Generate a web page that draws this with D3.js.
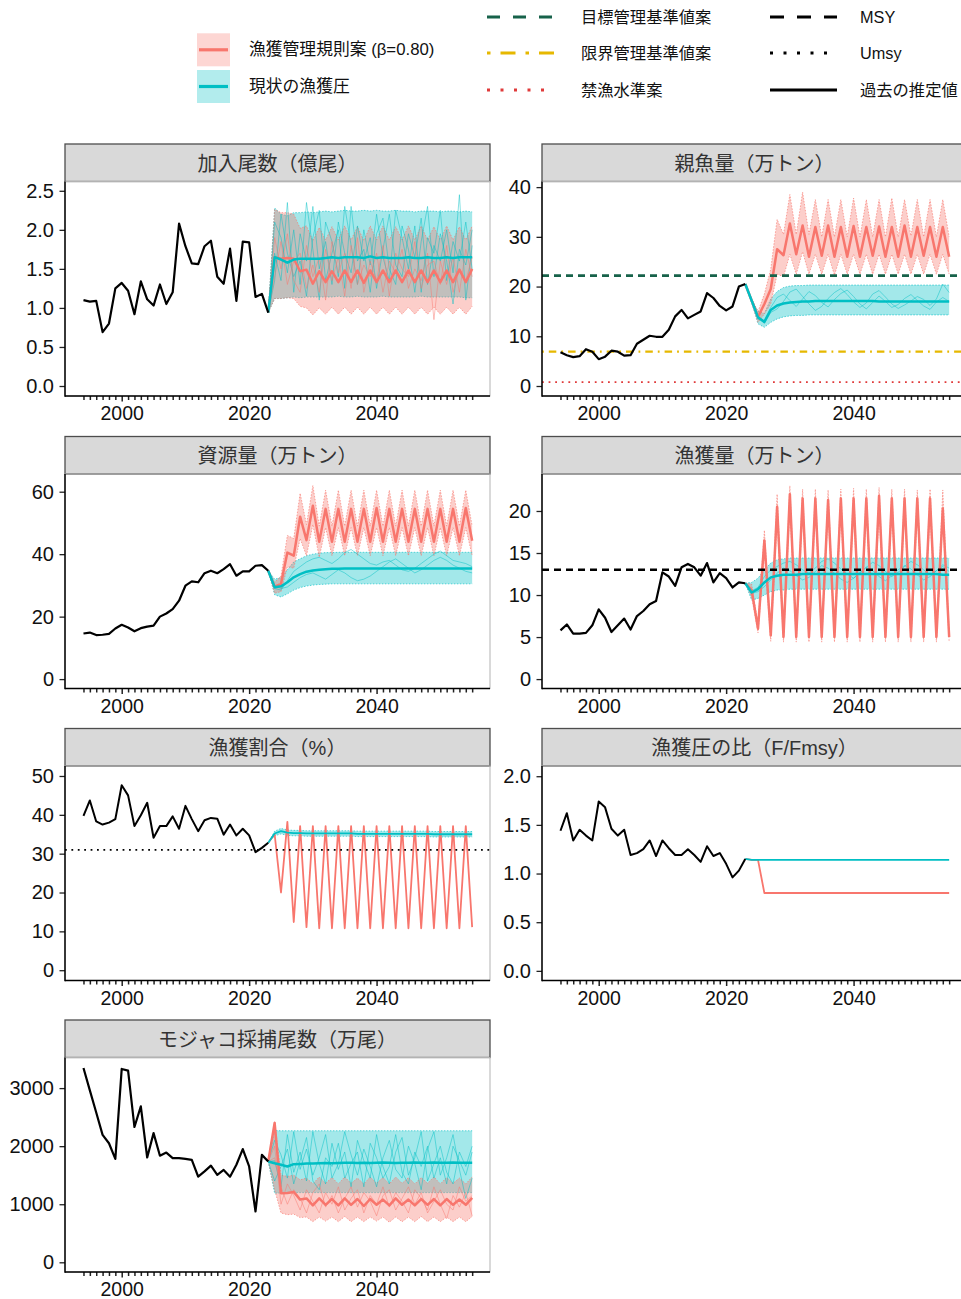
<!DOCTYPE html>
<html>
<head>
<meta charset="utf-8">
<script src="https://cdn.jsdelivr.net/npm/d3@7"></script>
<style>
  body { margin:0; background:#fff; }
  svg  { display:block; }
</style>
</head>
<body>
<div id="chart"></div>
<script>
// Years: historical estimates and projection.
var year_hist_first  = 1994;
var year_hist_last   = 2023;
var year_proj_last   = 2055;
var years_hist       = d3.range(year_hist_first, year_hist_last + 1);
var years_proj       = d3.range(year_hist_last + 1, year_proj_last + 1);
var years_all        = years_hist.concat(years_proj);
var years_tick_major = [2000, 2020, 2040];

var color_rule = "#F8766D";   // 漁獲管理規則案 (β=0.80)
var color_curr = "#00BFC4";   // 現状の漁獲圧

// 加入尾数（億尾）
var rec_hist      = [1.10,1.08,1.09,0.69,0.80,1.25,1.32,1.22,0.92,1.34,1.11,1.03,1.30,1.05,1.20,2.08,1.79,1.57,1.56,1.79,1.86,1.40,1.31,1.76,1.09,1.85,1.84,1.14,1.18,0.94];
var rec_curr_med  = [1.65,1.62,1.58,1.62,1.63,1.63,1.63,1.63,1.64,1.65,1.64,1.65,1.65,1.65,1.64,1.66,1.64,1.65,1.64,1.64,1.64,1.65,1.64,1.64,1.65,1.64,1.64,1.65,1.64,1.65,1.65,1.65];
var rec_curr_up   = [2.28,2.20,2.18,2.22,2.22,2.23,2.22,2.23,2.24,2.23,2.24,2.25,2.24,2.24,2.25,2.24,2.25,2.24,2.24,2.25,2.24,2.24,2.23,2.24,2.24,2.24,2.23,2.24,2.24,2.23,2.24,2.23];
var rec_curr_lo   = [1.12,1.12,1.13,1.14,1.13,1.14,1.14,1.14,1.14,1.14,1.15,1.14,1.14,1.15,1.14,1.14,1.14,1.15,1.14,1.14,1.14,1.14,1.14,1.15,1.14,1.14,1.14,1.14,1.14,1.14,1.13,1.13];
var rec_rule_med  = [1.65,1.63,1.64,1.63,1.47,1.49,1.31,1.47,1.33,1.47,1.33,1.48,1.33,1.48,1.32,1.48,1.33,1.48,1.33,1.48,1.33,1.48,1.33,1.48,1.33,1.48,1.33,1.48,1.33,1.49,1.33,1.50];
var rec_rule_up   = [2.26,2.22,2.22,2.20,2.02,2.05,1.86,2.03,1.87,2.04,1.87,2.05,1.87,2.04,1.86,2.05,1.87,2.05,1.87,2.04,1.87,2.05,1.87,2.05,1.87,2.04,1.87,2.05,1.87,2.04,1.87,2.05];
var rec_rule_lo   = [1.12,1.12,1.13,1.12,1.02,1.00,0.91,1.00,0.92,1.01,0.92,1.01,0.92,1.01,0.92,1.01,0.92,1.01,0.92,1.01,0.92,1.01,0.92,1.01,0.92,1.01,0.92,1.01,0.92,1.01,0.92,1.02];
var rec_curr_sim1 = [1.70,1.35,2.35,1.20,1.95,1.60,2.30,1.50,1.85,1.30,2.10,1.70,1.45,2.05,1.60,1.90,1.25,1.75,2.20,1.55,1.40,1.95,1.65,2.15,1.30,1.80,1.60,2.00,1.45,2.45,1.10,1.80];
var rec_curr_sim2 = [2.10,1.90,1.45,2.00,1.30,2.35,1.75,1.10,2.10,1.85,1.40,2.30,1.80,1.30,2.00,1.55,2.20,1.65,1.35,2.25,1.90,1.50,2.05,1.20,1.90,1.70,2.25,1.35,1.85,1.60,2.10,1.50];
var rec_curr_sim3 = [1.35,2.20,1.70,1.40,1.60,1.15,1.90,2.25,1.35,1.70,2.00,1.25,2.30,1.60,1.75,1.20,1.95,2.15,1.50,1.30,2.05,1.75,1.20,1.85,2.30,1.40,1.95,1.60,1.05,1.75,1.55,2.00];
var rec_rule_sim1 = [1.40,1.85,1.30,1.60,1.70,1.25,1.55,1.20,1.75,1.35,1.65,1.15,1.80,1.30,1.55,1.40,1.70,1.20,1.60,1.45,1.75,1.25,1.50,1.35,1.70,0.85,1.60,1.30,1.65,1.20,1.75,1.40];
var rec_rule_sim2 = [1.90,1.50,1.95,1.35,1.20,1.80,1.40,1.65,1.10,1.85,1.45,1.70,1.25,1.90,1.20,1.60,1.35,1.80,1.15,1.70,1.50,1.40,1.85,1.25,1.55,1.60,1.30,1.80,1.20,1.50,1.35,1.65];

// 親魚量（万トン）
var ssb_hist      = [6.8,6.2,5.8,6.0,7.4,6.9,5.4,5.9,7.1,6.9,6.1,6.2,8.5,9.3,10.1,9.9,9.9,11.3,14.0,15.3,13.6,14.3,15.0,18.7,17.7,16.1,15.2,16.0,20.0,20.5];
var ssb_curr_med  = [17.2,13.8,12.9,15.3,16.2,16.6,16.8,16.9,17.0,17.0,17.1,17.1,17.1,17.1,17.1,17.1,17.1,17.1,17.1,17.1,17.0,17.0,17.0,17.0,17.0,17.0,17.0,17.0,17.0,17.0,17.0,17.0];
var ssb_curr_up   = [17.5,15.0,14.6,17.5,19.0,19.8,20.1,20.2,20.2,20.3,20.3,20.3,20.3,20.3,20.3,20.3,20.3,20.3,20.3,20.3,20.3,20.3,20.3,20.3,20.3,20.3,20.3,20.3,20.3,20.3,20.3,20.3];
var ssb_curr_lo   = [16.8,12.5,11.8,12.8,13.5,13.9,14.1,14.2,14.2,14.3,14.3,14.3,14.3,14.3,14.3,14.3,14.3,14.3,14.3,14.3,14.3,14.3,14.3,14.3,14.3,14.3,14.3,14.3,14.3,14.3,14.3,14.3];
var ssb_rule_med  = [17.2,13.9,16.5,19.5,27.5,26.3,32.7,26.5,32.3,26.0,32.0,26.2,32.3,26.0,32.0,26.0,32.2,26.0,32.0,26.2,32.1,26.0,32.0,26.0,32.3,26.0,32.0,26.2,32.0,26.0,32.0,26.0];
var ssb_rule_up   = [17.5,15.0,18.5,23.5,33.5,30.5,38.5,30.5,39.0,30.5,37.5,30.0,37.5,30.0,37.5,30.0,37.8,30.0,37.5,30.0,37.5,30.0,37.8,30.0,37.5,30.2,37.5,30.0,37.5,30.0,37.5,30.0];
var ssb_rule_lo   = [16.8,12.8,14.5,16.5,22.5,22.0,26.5,22.5,27.0,22.5,26.5,22.5,26.5,22.3,26.5,22.5,26.5,22.5,26.5,22.5,26.5,22.5,26.5,22.5,26.5,22.5,26.5,22.5,26.5,22.5,26.5,22.5];
var ssb_curr_sim1 = [17.3,13.5,13.2,15.8,17.8,18.5,17.2,16.0,17.5,19.0,18.2,16.8,15.9,17.4,18.6,19.3,18.0,16.5,15.5,16.8,18.1,17.0,15.8,16.4,17.6,18.4,17.2,16.1,15.4,16.9,17.8,17.0];
var ssb_curr_sim2 = [17.0,14.0,12.6,14.8,15.5,17.0,18.9,19.5,18.0,16.5,15.2,16.0,17.6,18.8,19.6,18.4,16.9,15.8,16.7,18.5,19.2,17.9,16.5,15.6,16.3,17.1,18.0,17.4,16.2,17.5,20.5,18.8];
var ssb_target    = 22.2;   // 目標管理基準値案
var ssb_limit     = 6.9;    // 限界管理基準値案
var ssb_ban       = 0.8;    // 禁漁水準案

// 資源量（万トン）
var bio_hist      = [14.6,14.9,14.1,14.2,14.5,16.2,17.4,16.5,15.3,16.3,16.8,17.1,20.0,21.0,22.4,25.1,29.9,31.3,31.0,33.9,34.7,33.9,35.2,36.8,33.1,34.5,34.5,36.3,36.5,34.7];
var bio_curr_med  = [29.4,29.7,31.0,32.6,33.6,34.4,34.8,35.0,35.2,35.3,35.3,35.4,35.4,35.4,35.4,35.4,35.4,35.4,35.4,35.4,35.4,35.4,35.4,35.4,35.4,35.4,35.4,35.4,35.4,35.4,35.4,35.4];
var bio_curr_up   = [32.0,32.5,35.0,37.5,38.5,39.5,40.0,40.3,40.5,40.5,40.6,40.6,40.6,40.6,40.6,40.6,40.6,40.6,40.6,40.6,40.6,40.6,40.6,40.6,40.6,40.6,40.6,40.6,40.6,40.6,40.6,40.6];
var bio_curr_lo   = [27.0,26.3,27.3,28.5,29.3,29.8,30.1,30.3,30.4,30.5,30.5,30.5,30.5,30.5,30.5,30.5,30.5,30.5,30.5,30.5,30.5,30.5,30.5,30.5,30.5,30.5,30.5,30.5,30.5,30.5,30.5,30.5];
var bio_rule_med  = [29.6,30.5,40.5,39.5,52.0,44.5,55.5,44.0,54.5,44.0,54.5,44.0,54.5,44.0,54.5,44.0,54.8,44.0,54.5,44.0,54.5,44.0,54.5,44.0,54.5,44.0,54.5,44.0,54.5,44.0,54.8,44.3];
var bio_rule_up   = [31.0,33.0,46.0,45.0,59.5,49.5,62.0,49.0,60.5,49.0,60.5,49.0,60.5,49.0,60.5,49.0,60.5,49.0,60.5,49.0,60.5,49.0,60.5,49.0,60.5,49.0,60.5,49.0,60.5,49.0,60.5,49.0];
var bio_rule_lo   = [27.5,28.0,36.0,35.5,45.0,39.5,49.5,39.0,48.5,39.5,48.5,39.5,48.5,39.5,48.5,39.5,48.5,39.5,48.5,39.5,48.5,39.5,48.5,39.5,48.5,39.5,48.5,39.5,48.5,39.5,48.5,39.5];
var bio_curr_sim1 = [29.0,28.5,31.5,34.5,36.0,37.5,38.5,39.0,38.0,37.0,38.5,40.5,41.5,40.0,38.5,37.0,36.5,37.5,38.0,36.5,35.0,34.5,35.5,37.0,38.5,40.0,41.0,39.5,38.0,37.5,37.0,36.0];
var bio_curr_sim2 = [30.0,29.0,29.5,31.0,32.5,33.5,34.0,33.0,32.0,33.5,35.0,34.0,32.5,31.5,32.0,33.0,34.5,36.0,37.5,38.5,37.0,35.5,34.0,35.0,36.5,38.0,39.0,38.0,36.5,35.5,34.5,34.0];

// 漁獲量（万トン）
var cat_hist      = [5.8,6.5,5.4,5.4,5.5,6.4,8.3,7.3,5.6,6.4,7.2,5.9,7.5,8.1,8.9,9.3,12.7,12.2,11.1,13.3,13.7,13.3,12.3,13.8,11.5,12.6,12.0,10.9,11.5,11.4];
var cat_curr_med  = [10.3,10.7,11.5,12.1,12.3,12.4,12.4,12.4,12.5,12.5,12.5,12.5,12.5,12.5,12.5,12.5,12.5,12.5,12.5,12.5,12.5,12.5,12.5,12.5,12.5,12.5,12.5,12.5,12.5,12.5,12.4,12.4];
var cat_curr_up   = [11.5,12.0,13.0,13.8,14.2,14.3,14.4,14.4,14.4,14.4,14.4,14.4,14.4,14.4,14.4,14.4,14.4,14.4,14.4,14.4,14.4,14.4,14.4,14.4,14.4,14.4,14.4,14.4,14.4,14.4,14.4,14.4];
var cat_curr_lo   = [9.4,9.6,10.0,10.4,10.6,10.6,10.7,10.7,10.7,10.7,10.7,10.7,10.7,10.7,10.7,10.7,10.7,10.7,10.7,10.7,10.7,10.7,10.7,10.7,10.7,10.7,10.7,10.7,10.7,10.7,10.7,10.7];
var cat_rule_med  = [10.6,6.0,16.5,5.2,20.5,5.0,22.0,5.0,21.5,5.0,21.5,5.0,21.3,5.0,21.5,5.0,21.5,5.0,21.5,5.0,21.8,5.0,21.5,5.0,21.5,5.0,21.5,5.0,21.5,5.0,20.3,5.0];
var cat_rule_up   = [11.3,6.6,17.7,5.6,22.0,5.5,23.0,5.5,22.6,5.5,22.6,5.5,22.5,5.5,22.6,5.5,22.7,5.5,22.6,5.5,22.8,5.5,22.6,5.5,22.6,5.5,22.5,5.5,22.6,5.5,22.5,5.5];
var cat_rule_lo   = [9.8,5.5,15.0,4.5,19.0,4.4,20.5,4.4,20.0,4.4,20.0,4.4,20.0,4.4,20.0,4.4,20.0,4.4,20.0,4.4,20.0,4.4,20.0,4.4,20.0,4.4,20.0,4.4,20.0,4.4,19.0,4.4];
var cat_curr_sim1 = [10.5,10.9,12.2,13.0,13.4,13.8,14.0,13.6,13.0,12.6,13.2,14.0,14.3,13.8,13.1,12.5,12.0,12.6,13.3,13.9,13.5,12.8,12.2,12.7,13.4,14.0,13.6,13.0,12.4,12.9,13.6,13.2];
var cat_curr_sim2 = [10.2,10.4,11.0,11.8,12.6,13.2,12.9,12.3,11.8,12.1,12.8,13.5,13.2,12.6,11.9,11.5,12.0,12.7,13.3,12.9,12.2,11.7,12.3,13.0,13.5,13.1,12.4,11.8,12.2,12.9,13.4,12.8];
var cat_msy       = 13.0;

// 漁獲割合（%）
var rate_hist     = [39.7,43.7,38.3,37.5,38.0,38.9,47.6,45.0,37.1,39.9,43.1,34.1,37.1,37.1,39.6,36.4,42.3,38.9,35.8,38.6,39.2,39.0,34.9,37.5,34.7,36.4,34.7,30.4,31.5,32.8];
var rate_curr_med = [35.2,35.8,35.4,35.3,35.3,35.2,35.2,35.2,35.2,35.2,35.2,35.2,35.2,35.1,35.1,35.1,35.1,35.1,35.1,35.1,35.1,35.1,35.1,35.1,35.1,35.0,35.0,35.0,35.0,35.0,35.0,35.0];
var rate_curr_up  = [35.8,36.5,36.1,36.0,36.0,35.9,35.9,35.9,35.9,35.9,35.9,35.9,35.9,35.8,35.8,35.8,35.8,35.8,35.8,35.8,35.8,35.8,35.8,35.8,35.8,35.7,35.7,35.7,35.7,35.7,35.7,35.7];
var rate_curr_lo  = [34.6,35.1,34.7,34.6,34.6,34.5,34.5,34.5,34.5,34.5,34.5,34.5,34.5,34.4,34.4,34.4,34.4,34.4,34.4,34.4,34.4,34.4,34.4,34.4,34.4,34.3,34.3,34.3,34.3,34.3,34.3,34.3];
var rate_rule_med = [35.0,20.0,38.2,12.4,37.1,11.1,37.1,10.8,37.1,10.8,37.1,10.8,37.1,10.8,37.1,10.8,37.1,10.8,37.1,10.8,37.1,10.8,37.1,10.8,37.1,10.8,37.1,10.8,37.1,10.8,37.1,11.1];
var rate_umsy     = 31.0;

// 漁獲圧の比（F/Fmsy）
var fr_hist       = [1.44,1.62,1.34,1.45,1.39,1.34,1.74,1.68,1.46,1.39,1.45,1.19,1.21,1.25,1.34,1.18,1.34,1.26,1.19,1.19,1.25,1.19,1.12,1.28,1.18,1.21,1.10,0.96,1.03,1.15];
var fr_curr_med   = [1.14,1.14,1.14,1.14,1.14,1.14,1.14,1.14,1.14,1.14,1.14,1.14,1.14,1.14,1.14,1.14,1.14,1.14,1.14,1.14,1.14,1.14,1.14,1.14,1.14,1.14,1.14,1.14,1.14,1.14,1.14,1.14];
var fr_rule_med   = [1.14,1.14,0.80,0.80,0.80,0.80,0.80,0.80,0.80,0.80,0.80,0.80,0.80,0.80,0.80,0.80,0.80,0.80,0.80,0.80,0.80,0.80,0.80,0.80,0.80,0.80,0.80,0.80,0.80,0.80,0.80,0.80];

// モジャコ採捕尾数（万尾）
var moj_hist      = [3345,2960,2580,2195,2050,1780,3330,3300,2330,2685,1805,2225,1835,1890,1795,1795,1780,1765,1475,1565,1665,1505,1590,1475,1680,1950,1650,875,1850,1735];
var moj_curr_med  = [1705,1680,1650,1690,1695,1700,1700,1705,1710,1705,1710,1715,1715,1710,1715,1710,1715,1720,1715,1710,1715,1715,1720,1715,1715,1720,1715,1715,1720,1715,1715,1715];
var moj_curr_up   = [2270,2265,2265,2265,2265,2265,2265,2265,2265,2265,2265,2265,2265,2265,2265,2265,2265,2265,2265,2265,2265,2265,2265,2265,2265,2265,2265,2265,2265,2265,2265,2265];
var moj_curr_lo   = [1190,1195,1200,1200,1200,1200,1200,1200,1200,1200,1200,1200,1200,1200,1200,1200,1200,1200,1200,1200,1200,1200,1200,1200,1200,1200,1200,1200,1200,1200,1200,1200];
var moj_rule_med  = [2400,1190,1195,1210,1080,1100,980,1100,990,1090,980,1100,990,1090,970,1090,990,1080,980,1100,990,1080,980,1090,990,1090,980,1090,990,1080,990,1110];
var moj_rule_up   = [2430,1500,1480,1500,1420,1450,1350,1470,1360,1460,1350,1470,1360,1450,1350,1470,1360,1460,1350,1470,1360,1460,1350,1460,1360,1470,1350,1460,1360,1450,1350,1470];
var moj_rule_lo   = [1250,850,820,830,770,780,700,780,710,780,700,790,700,780,700,780,710,780,690,780,700,780,700,790,700,780,700,780,700,780,700,790];
var moj_curr_sim1 = [1750,1300,2200,1550,1900,1400,2250,1700,1350,2050,1600,1900,1300,2100,1750,1450,2200,1650,1350,1900,2150,1500,1800,2250,1400,1700,2000,1550,1350,1900,1650,2000];
var moj_curr_sim2 = [2100,1850,1450,2250,1600,1950,1500,1800,2200,1450,1700,2250,1850,1500,1950,1650,1300,1800,2100,1600,1450,2000,1700,1250,1950,2250,1500,1800,2200,1600,1100,1450];
var moj_curr_sim3 = [1400,1650,1950,1350,1750,2150,1400,1250,1800,1650,2050,1450,1700,1900,1300,2050,1800,1450,1650,2200,1550,1350,1900,1650,2000,1450,1800,1350,2000,1750,1500,1900];
var moj_rule_sim1 = [2000,1000,1350,1150,900,1250,1050,850,1200,1000,1300,900,1100,1250,850,1150,1000,1300,950,1200,1050,850,1250,1100,900,1300,1000,750,1150,950,1200,800];
var moj_rule_sim2 = [1800,1300,1000,1250,1100,850,1200,1350,950,1150,850,1100,1300,950,1200,1050,800,1150,1250,900,1100,1300,1000,1200,850,1050,1250,1000,900,1300,1050,1150];

// Layout.
var col_left           = [65, 542];
var panel_width        = 425;
var strip_top          = [144, 436.5, 728.5, 1020];
var strip_height       = 37.5;
var panel_height_total = 252;
var x_domain           = [1991.1, 2057.8];
var band_alpha         = 0.36;
var font_num           = "'Liberation Sans', Arial, sans-serif";
var font_jp            = "'Liberation Sans', 'Noto Sans CJK JP', sans-serif";

var fmt_1 = d3.format(".1f");
var fmt_0 = d3.format("d");

var panels = [
  { col:0, row:0, title:"加入尾数（億尾）", domain:[-0.128, 2.619], ticks:[0,0.5,1,1.5,2,2.5], format:fmt_1,
    hist:rec_hist,
    curr:{ med:rec_curr_med, up:rec_curr_up, lo:rec_curr_lo, sims:[rec_curr_sim1, rec_curr_sim2, rec_curr_sim3] },
    rule:{ med:rec_rule_med, up:rec_rule_up, lo:rec_rule_lo, sims:[rec_rule_sim1, rec_rule_sim2] },
    refs:[] },
  { col:1, row:0, title:"親魚量（万トン）", domain:[-2.01, 41.13], ticks:[0,10,20,30,40], format:fmt_0,
    hist:ssb_hist,
    curr:{ med:ssb_curr_med, up:ssb_curr_up, lo:ssb_curr_lo, sims:[ssb_curr_sim1, ssb_curr_sim2] },
    rule:{ med:ssb_rule_med, up:ssb_rule_up, lo:ssb_rule_lo, sims:[] },
    refs:[ { value:ssb_target, color:"#17624a", dash:"7,5",         width:2.6 },
           { value:ssb_limit,  color:"#E6B800", dash:"1.8,5,7.5,5", width:2.2 },
           { value:ssb_ban,    color:"#E03A3A", dash:"1.8,4.8",     width:1.8 } ] },
  { col:0, row:1, title:"資源量（万トン）", domain:[-3.01, 65.67], ticks:[0,20,40,60], format:fmt_0,
    hist:bio_hist,
    curr:{ med:bio_curr_med, up:bio_curr_up, lo:bio_curr_lo, sims:[bio_curr_sim1, bio_curr_sim2] },
    rule:{ med:bio_rule_med, up:bio_rule_up, lo:bio_rule_lo, sims:[] },
    refs:[] },
  { col:1, row:1, title:"漁獲量（万トン）", domain:[-1.12, 24.4], ticks:[0,5,10,15,20], format:fmt_0,
    hist:cat_hist,
    curr:{ med:cat_curr_med, up:cat_curr_up, lo:cat_curr_lo, sims:[cat_curr_sim1, cat_curr_sim2] },
    rule:{ med:cat_rule_med, up:cat_rule_up, lo:cat_rule_lo, sims:[] },
    refs:[ { value:cat_msy, color:"#000", dash:"7,5", width:2.6 } ] },
  { col:0, row:2, title:"漁獲割合（%）", domain:[-2.65, 52.57], ticks:[0,10,20,30,40,50], format:fmt_0,
    hist:rate_hist,
    curr:{ med:rate_curr_med, up:rate_curr_up, lo:rate_curr_lo, sims:[] },
    rule:{ med:rate_rule_med, sims:[] },
    refs:[ { value:rate_umsy, color:"#000", dash:"1.8,4.6", width:1.8 } ], thin:true },
  { col:1, row:2, title:"漁獲圧の比（F/Fmsy）", domain:[-0.099, 2.105], ticks:[0,0.5,1,1.5,2], format:fmt_1,
    hist:fr_hist,
    curr:{ med:fr_curr_med, sims:[] },
    rule:{ med:fr_rule_med, sims:[] },
    refs:[], thin:true },
  { col:0, row:3, title:"モジャコ採捕尾数（万尾）", domain:[-167, 3527], ticks:[0,1000,2000,3000], format:fmt_0,
    hist:moj_hist,
    curr:{ med:moj_curr_med, up:moj_curr_up, lo:moj_curr_lo, sims:[moj_curr_sim1, moj_curr_sim2, moj_curr_sim3] },
    rule:{ med:moj_rule_med, up:moj_rule_up, lo:moj_rule_lo, sims:[moj_rule_sim1, moj_rule_sim2] },
    refs:[] }
];

var svg = d3.select("#chart").append("svg")
  .attr("height", 1299)
  .attr("width", 961);
var defs = svg.append("defs");

function draw_panel (p, i) {
  var left   = col_left[p.col];
  var right  = left + panel_width;
  var top    = strip_top[p.row] + strip_height;
  var bottom = strip_top[p.row] + panel_height_total;
  var x = d3.scaleLinear().domain(x_domain).range([left, right]);
  var y = d3.scaleLinear().domain(p.domain).range([bottom, top]);

  // Strip on top of the panel.
  svg.append("rect")
    .attr("x", left).attr("y", strip_top[p.row])
    .attr("width", panel_width).attr("height", strip_height)
    .style("fill", "#d9d9d9").style("stroke", "#4d4d4d").style("stroke-width", 1.3);
  svg.append("text")
    .attr("x", left + panel_width/2).attr("y", strip_top[p.row] + strip_height/2 + 1)
    .attr("text-anchor", "middle").attr("dominant-baseline", "central")
    .style("font-family", font_jp).style("font-size", "20px").style("fill", "#333")
    .text(p.title);

  // Light panel border, the black axes come later.
  svg.append("rect")
    .attr("x", left).attr("y", top)
    .attr("width", panel_width).attr("height", bottom - top)
    .style("fill", "none").style("stroke", "#b3b3b3").style("stroke-width", 1);

  defs.append("clipPath").attr("id", "clip_" + i).append("rect")
    .attr("x", left).attr("y", top)
    .attr("width", panel_width).attr("height", bottom - top);
  var plot = svg.append("g").attr("clip-path", "url(#clip_" + i + ")");

  var last       = p.hist[p.hist.length - 1];
  var years_join = [year_hist_last].concat(years_proj);
  function join (values) { return [last].concat(values); }
  function pairs (values) {
    var v = join(values);
    return years_join.map(function (yr, j) { return [yr, v[j]]; });
  }
  var line = d3.line()
    .x(function (d) { return x(d[0]); })
    .y(function (d) { return y(d[1]); });
  var area = d3.area()
    .x (function (d) { return x(d[0]); })
    .y0(function (d) { return y(d[1]); })
    .y1(function (d) { return y(d[2]); });

  var series = [ { s:p.curr, color:color_curr }, { s:p.rule, color:color_rule } ];

  // 80% bands with dotted edges.
  series.forEach(function (e) {
    if (!e.s.up) return;
    var lo  = join(e.s.lo);
    var up  = join(e.s.up);
    var pts = years_join.map(function (yr, j) { return [yr, lo[j], up[j]]; });
    plot.append("path")
      .attr("d", area(pts))
      .style("fill", e.color).style("fill-opacity", band_alpha).style("stroke", "none");
    [e.s.lo, e.s.up].forEach(function (edge) {
      plot.append("path")
        .attr("d", line(pairs(edge)))
        .style("fill", "none").style("stroke", e.color)
        .style("stroke-width", 0.8).style("stroke-dasharray", "1.5,1.5").style("opacity", 0.8);
    });
  });

  // Sample trajectories.
  series.forEach(function (e) {
    e.s.sims.forEach(function (sim) {
      plot.append("path")
        .attr("d", line(pairs(sim)))
        .style("fill", "none").style("stroke", e.color)
        .style("stroke-width", 0.8).style("opacity", 0.6);
    });
  });

  // Medians: rule first, current on top.
  var med_width = p.thin ? 1.8 : 2.5;
  [series[1], series[0]].forEach(function (e) {
    plot.append("path")
      .attr("d", line(pairs(e.s.med)))
      .style("fill", "none").style("stroke", e.color)
      .style("stroke-width", med_width).style("stroke-linejoin", "round");
  });

  // Reference lines across the whole panel.
  p.refs.forEach(function (r) {
    plot.append("line")
      .attr("x1", left).attr("x2", right)
      .attr("y1", y(r.value)).attr("y2", y(r.value))
      .style("stroke", r.color).style("stroke-width", r.width).style("stroke-dasharray", r.dash);
  });

  // Past estimates.
  plot.append("path")
    .attr("d", line(years_hist.map(function (yr, j) { return [yr, p.hist[j]]; })))
    .style("fill", "none").style("stroke", "#000")
    .style("stroke-width", p.thin ? 2.0 : 2.2).style("stroke-linejoin", "round");

  // Axes.
  var y_axis = svg.append("g")
    .attr("transform", "translate(" + left + ",0)")
    .call(d3.axisLeft(y).tickValues(p.ticks).tickSize(5.5).tickPadding(5.5).tickFormat(p.format));
  y_axis.select(".domain").remove();
  y_axis.selectAll(".tick line").style("stroke", "#222").style("stroke-width", 1.3);
  y_axis.selectAll(".tick text")
    .style("font-family", font_num).style("font-size", "20px").style("fill", "#111");

  var x_axis = svg.append("g")
    .attr("transform", "translate(0," + bottom + ")")
    .call(d3.axisBottom(x).tickValues(years_all).tickSize(4)
      .tickFormat(function (d) { return years_tick_major.indexOf(d) >= 0 ? d : ""; }));
  x_axis.select(".domain").remove();
  x_axis.selectAll(".tick line")
    .attr("y2", function (d) { return years_tick_major.indexOf(d) >= 0 ? 5.5 : 4; })
    .style("stroke", "#222").style("stroke-width", 1.5);
  x_axis.selectAll(".tick text")
    .attr("y", 10.5)
    .style("font-family", font_num).style("font-size", "19.5px").style("fill", "#111");

  svg.append("line")
    .attr("x1", left).attr("x2", left).attr("y1", top).attr("y2", bottom + 0.7)
    .style("stroke", "#000").style("stroke-width", 1.5);
  svg.append("line")
    .attr("x1", left).attr("x2", right).attr("y1", bottom).attr("y2", bottom)
    .style("stroke", "#000").style("stroke-width", 1.5);
}

panels.forEach(draw_panel);

// Legend: scenarios.
var legend_scen = [
  { label:"漁獲管理規則案 (β=0.80)", color:color_rule, y:33.3 },
  { label:"現状の漁獲圧",            color:color_curr, y:70   }
];
legend_scen.forEach(function (d) {
  svg.append("rect")
    .attr("x", 197).attr("y", d.y).attr("width", 33).attr("height", 33)
    .style("fill", d.color).style("fill-opacity", 0.3);
  svg.append("line")
    .attr("x1", 199).attr("x2", 228).attr("y1", d.y + 16.5).attr("y2", d.y + 16.5)
    .style("stroke", d.color).style("stroke-width", 3.2);
  svg.append("text")
    .attr("x", 249).attr("y", d.y + 16.5).attr("dominant-baseline", "central")
    .style("font-family", font_jp).style("font-size", "16.8px").style("fill", "#111")
    .text(d.label);
});

// Legend: reference lines.
var legend_refs = [
  { label:"目標管理基準値案", color:"#17624a", dash:"13,13",        x:487, y:17, tx:581 },
  { label:"限界管理基準値案", color:"#E6B800", dash:"3.5,10,15,10", x:487, y:53, tx:581 },
  { label:"禁漁水準案",       color:"#E03A3A", dash:"3,10.5",       x:487, y:90, tx:581 },
  { label:"MSY",              color:"#000",    dash:"14,13",        x:770, y:17, tx:860 },
  { label:"Umsy",             color:"#000",    dash:"3,10.5",       x:770, y:53, tx:860 },
  { label:"過去の推定値",     color:"#000",    dash:null,           x:770, y:90, tx:860 }
];
legend_refs.forEach(function (d) {
  svg.append("line")
    .attr("x1", d.x).attr("x2", d.x + 67).attr("y1", d.y).attr("y2", d.y)
    .style("stroke", d.color).style("stroke-width", 3)
    .style("stroke-dasharray", d.dash);
  svg.append("text")
    .attr("x", d.tx).attr("y", d.y).attr("dominant-baseline", "central")
    .style("font-family", font_jp).style("font-size", "16.3px").style("fill", "#111")
    .text(d.label);
});
</script>
</body>
</html>
